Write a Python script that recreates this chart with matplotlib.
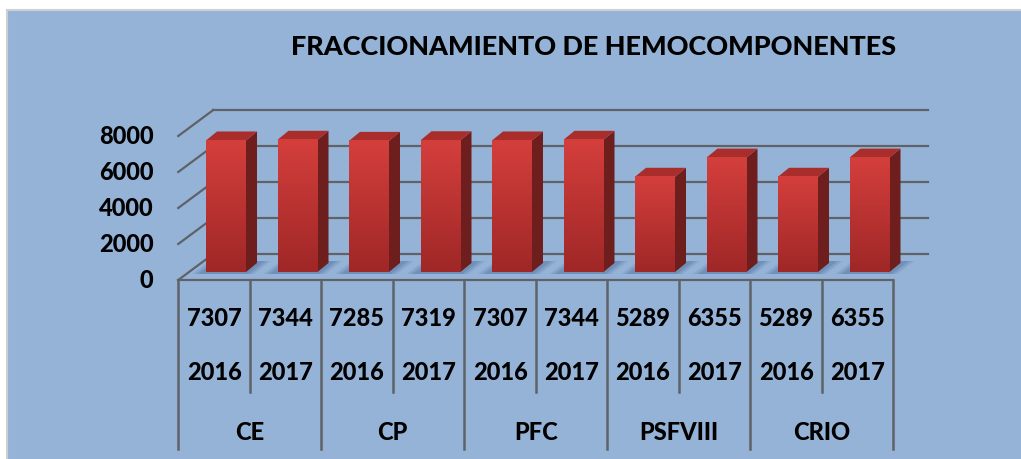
import numpy as np
import matplotlib
matplotlib.use("Agg")
import matplotlib.pyplot as plt
from matplotlib.patches import Polygon, Rectangle

# data
title = "FRACCIONAMIENTO DE HEMOCOMPONENTES"
categories = ["CE", "CP", "PFC", "PSFVIII", "CRIO"]
years = ["2016", "2017"]
values = [7307, 7344, 7285, 7319, 7307, 7344, 5289, 6355, 5289, 6355]
y_ticks = [0, 2000, 4000, 6000, 8000]

W, H = 1021, 459
BG = "#95B3D7"
GRID = "#5f6266"
FW = "black"   # heaviest weight of the font
plt.rcParams["font.family"] = ["Lato", "DejaVu Sans"]

fig = plt.figure(figsize=(W / 100, H / 100), dpi=100)
fig.patch.set_facecolor("white")
fig.patches.append(Rectangle((7 / W, 0), 1, (H - 10) / H, transform=fig.transFigure,
                             facecolor=BG, edgecolor="none", zorder=-10))
# thin grey frame on top and left only
fig.add_artist(plt.Line2D([7 / W, 7 / W], [0, (H - 10) / H], color="#cfcfcf", lw=1.5))
fig.add_artist(plt.Line2D([7 / W, 1], [(H - 10) / H, (H - 10) / H], color="#cfcfcf", lw=1.5))

# axes = plane of the bar fronts
ax = fig.add_axes([190.25 / W, (H - 272) / H, 715 / W, 144 / H])
ax.set_xlim(-0.5, 9.5)
ax.set_ylim(0, 8000)
ax.axis("off")

bb = ax.get_position()
px_x = bb.width * W / 10.0          # pixels per category
px_y = bb.height * H / 8000.0       # pixels per unit value


def pt(x, v, dx=0, dy=0):
    # data point shifted by dx, dy pixels (3d depth)
    return (x + dx / px_x, v + dy / px_y)


FRONT = (-12, -8)
BACK = (23, 18)
n = len(values)

# back wall gridlines + left side wall
for v in y_ticks:
    a, b = pt(-0.5, v, *BACK), pt(n - 0.5, v, *BACK)
    ax.plot([a[0], b[0]], [a[1], b[1]], color=GRID, lw=1.6, zorder=1, clip_on=False)
    c = pt(-0.5, v, *FRONT)
    ax.plot([c[0], a[0]], [c[1], a[1]], color=GRID, lw=1.6, zorder=1, clip_on=False)
    ax.text(*pt(-0.5, v, FRONT[0] - 25, FRONT[1]), f"{v}", ha="right", va="center",
            fontsize=17, fontweight=FW, color="black")

# floor front edge
a, b = pt(-0.5, 0, *FRONT), pt(n - 0.5, 0, *FRONT)
ax.plot([a[0], b[0]], [a[1], b[1]], color=GRID, lw=1.6, zorder=1, clip_on=False)

# bars
w = 40 / px_x
ddx, ddy = 11, 9
grad = np.linspace(0, 1, 256).reshape(-1, 1)
front_cmap = matplotlib.colors.LinearSegmentedColormap.from_list("f", ["#d43f3c", "#9f2727"])
for i, v in enumerate(values):
    x0, x1 = i - w / 2, i + w / 2
    # soft shadow on floor
    for k, al in [(8, 0.12), (5, 0.15), (2, 0.2)]:
        sh = [pt(x0, 0, -k - 6, -2), pt(x1, 0, k, -2),
              pt(x1, 0, ddx + k + 6, ddy + 2), pt(x0, 0, ddx - k, ddy + 2)]
        ax.add_patch(Polygon(sh, closed=True, facecolor="#3e5f8f", alpha=al,
                             edgecolor="none", zorder=2, clip_on=False))
    side = [pt(x1, 0), pt(x1, 0, ddx, ddy), pt(x1, v, ddx, ddy), pt(x1, v)]
    ax.add_patch(Polygon(side, closed=True, facecolor="#6e1e1d", edgecolor="none",
                         zorder=3, clip_on=False))
    top = [pt(x0, v), pt(x1, v), pt(x1, v, ddx, ddy), pt(x0, v, ddx, ddy)]
    ax.add_patch(Polygon(top, closed=True, facecolor="#a82d2b", edgecolor="none",
                         zorder=3, clip_on=False))
    ax.imshow(grad, extent=(x0, x1, 0, v), cmap=front_cmap, aspect="auto",
              zorder=4, clip_on=False, interpolation="bilinear")

ax.set_xlim(-0.5, 9.5)
ax.set_ylim(0, 8000)

# table below the floor
for k in range(n + 1):
    bottom = -177 if k % 2 == 0 else -120
    a, b = pt(k - 0.5, 0, *FRONT), pt(k - 0.5, 0, FRONT[0], bottom)
    ax.plot([a[0], b[0]], [a[1], b[1]], color=GRID, lw=1.8, zorder=1, clip_on=False)

for i, v in enumerate(values):
    ax.text(*pt(i, 0, FRONT[0], -46), f"{v}", ha="center", va="center",
            fontsize=17, fontweight=FW)
    ax.text(*pt(i, 0, FRONT[0], -101), years[i % 2], ha="center", va="center",
            fontsize=17, fontweight=FW)
for g, cat in enumerate(categories):
    ax.text(*pt(2 * g + 0.5, 0, FRONT[0], -160), cat, ha="center", va="center",
            fontsize=17, fontweight=FW)

# title, sized to the width in the picture
t = fig.text(593.5 / W, 1 - 47 / H, title, ha="center", va="center",
             fontsize=20, fontweight=FW)
fig.canvas.draw()
tw = t.get_window_extent().width
t.set_fontsize(20 * 607 / tw)

fig.savefig("out.png", dpi=100, facecolor=fig.get_facecolor())
